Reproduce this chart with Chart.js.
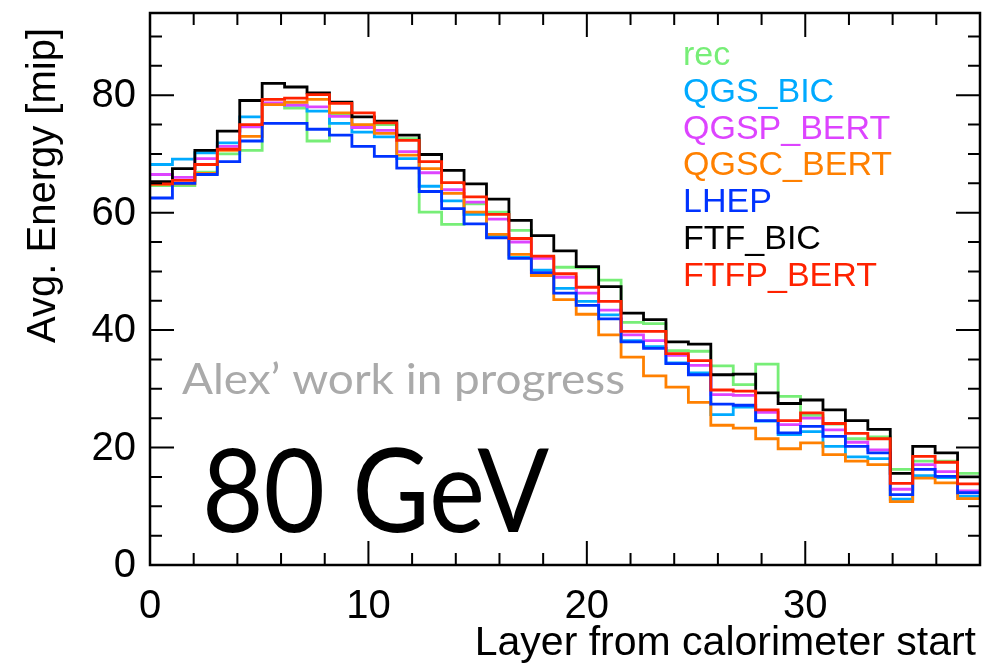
<!DOCTYPE html>
<html lang="en">
<head>
<meta charset="UTF-8">
<title>Avg. Energy per layer - 80 GeV</title>
<script src="https://cdn.jsdelivr.net/npm/chart.js"></script>
<style>
  body { margin: 0; background: #fff; }
  .wrap { width: 998px; height: 663px; }
</style>
</head>
<body>
<div class="wrap"><canvas id="layers"></canvas></div>
<script>
// physics lists, same order as the legend
const models = ['rec', 'QGS_BIC', 'QGSP_BERT', 'QGSC_BERT', 'LHEP', 'FTF_BIC', 'FTFP_BERT'];
const colors = ['#77ee77', '#00aaff', '#dd44ff', '#ff8000', '#0033ff', '#000000', '#ff2200'];

// avg energy per layer [mip], 37 bins
const rec      = [64.6, 64.6, 66.9, 70.0, 70.6, 78.5, 77.8, 72.2, 76.7, 74.9, 75.0, 72.6, 60.1, 58.0, 61.5, 60.1, 57.0, 52.4, 50.7, 50.6, 48.5, 41.3, 41.1, 36.5, 36.4, 33.9, 30.7, 34.2, 28.7, 25.5, 24.0, 21.5, 21.8, 16.3, 17.7, 17.7, 15.6];
const qgsBic   = [68.2, 69.1, 70.2, 71.9, 76.3, 78.5, 78.3, 77.3, 75.2, 73.7, 72.9, 69.2, 64.5, 62.0, 59.7, 56.0, 52.4, 50.2, 47.1, 44.9, 42.6, 38.2, 37.2, 34.4, 32.7, 25.6, 26.9, 24.5, 22.2, 22.7, 20.2, 18.4, 18.1, 11.2, 15.2, 14.9, 11.7];
const qgspBert = [66.5, 66.0, 69.2, 71.3, 74.6, 78.7, 78.3, 78.0, 76.4, 74.5, 74.0, 70.4, 66.8, 63.9, 61.8, 58.9, 55.0, 52.2, 49.0, 46.3, 43.4, 39.2, 38.2, 35.7, 34.0, 29.0, 28.9, 26.0, 23.9, 25.0, 23.0, 20.9, 19.6, 12.9, 17.1, 15.9, 12.6];
const qgscBert = [64.8, 64.9, 66.7, 70.6, 73.0, 78.4, 78.8, 79.3, 77.0, 75.0, 73.5, 69.8, 67.5, 63.3, 60.1, 56.3, 52.9, 49.3, 45.2, 42.7, 39.2, 35.4, 32.2, 30.3, 27.7, 23.8, 23.3, 21.5, 19.8, 20.8, 18.8, 17.7, 17.1, 10.8, 14.8, 14.0, 11.3];
const lhep     = [62.5, 65.0, 66.5, 68.7, 72.2, 75.2, 75.2, 74.2, 73.2, 71.3, 69.6, 67.6, 63.6, 60.7, 58.1, 55.7, 52.2, 49.8, 46.3, 44.2, 41.9, 38.0, 36.9, 34.3, 32.4, 27.4, 27.2, 24.6, 22.5, 23.6, 21.9, 20.2, 19.1, 12.0, 16.3, 15.1, 12.3];
const ftfBic   = [65.3, 67.5, 70.6, 73.9, 79.1, 82.0, 81.4, 80.4, 78.8, 76.3, 75.6, 73.2, 69.9, 67.2, 64.9, 62.3, 58.7, 56.1, 53.5, 50.8, 47.4, 42.9, 41.8, 38.0, 37.6, 32.4, 32.5, 29.3, 27.5, 28.1, 26.4, 24.6, 23.1, 15.6, 20.2, 19.1, 15.0];
const ftfpBert = [64.9, 65.5, 68.2, 70.8, 75.0, 79.3, 79.5, 80.1, 78.6, 77.0, 75.3, 72.3, 68.7, 65.1, 62.7, 59.7, 55.6, 52.6, 49.6, 47.3, 44.9, 39.8, 39.8, 36.0, 34.8, 29.8, 29.6, 26.4, 24.6, 25.9, 24.1, 22.4, 21.5, 13.9, 18.5, 17.5, 13.8];
const series = [rec, qgsBic, qgspBert, qgscBert, lhep, ftfBic, ftfpBert];

const xTicks = [0, 10, 20, 30];
const yTicks = [0, 20, 40, 60, 80];
const xMax = 38;
const yMax = 94;

const labelFont = '40px "Liberation Sans", Arial, sans-serif';

// bins span the whole x range, so each step is xMax / nbins wide
function histPoints(vals) {
    const w = xMax / vals.length;
    const pts = vals.map((v, i) => ({ x: i * w, y: v }));
    pts.push({ x: xMax, y: vals[vals.length - 1] });
    return pts;
}

// draw text squeezed/stretched to a given width
function fitText(ctx, txt, x, y, width) {
    const w = ctx.measureText(txt).width;
    ctx.save();
    ctx.translate(x, y);
    ctx.scale(width / w, 1);
    ctx.fillText(txt, 0, 0);
    ctx.restore();
}

const frame = {
    id: 'frame',
    beforeDraw(chart) {
        const ctx = chart.ctx;
        ctx.save();
        ctx.fillStyle = '#fff';
        ctx.fillRect(0, 0, chart.width, chart.height);
        ctx.restore();
    },
    beforeDatasetsDraw(chart) {
        const ctx = chart.ctx;
        ctx.save();
        ctx.textBaseline = 'alphabetic';
        ctx.fillStyle = '#aaaaaa';
        ctx.font = '42px Lato, "Open Sans", sans-serif';
        fitText(ctx, "Alex\u2019 work in progress", 182, 394, 443);
        ctx.fillStyle = '#000';
        ctx.font = '116px Lato, "Open Sans", sans-serif';
        fitText(ctx, '80 GeV', 202, 532, 347);
        ctx.restore();
    },
    afterDatasetsDraw(chart) {
        const { ctx, chartArea: a, scales: { x, y } } = chart;
        ctx.save();
        ctx.strokeStyle = '#000';
        ctx.lineWidth = 2.5;
        ctx.strokeRect(a.left, a.top, a.right - a.left, a.bottom - a.top);

        ctx.lineWidth = 2;
        ctx.beginPath();
        for (let v = 2; v < xMax; v += 2) {
            const px = x.getPixelForValue(v);
            const len = v % 10 === 0 ? 24 : 12;
            ctx.moveTo(px, a.bottom); ctx.lineTo(px, a.bottom - len);
            ctx.moveTo(px, a.top); ctx.lineTo(px, a.top + len);
        }
        for (let v = 5; v < yMax; v += 5) {
            const py = y.getPixelForValue(v);
            const len = v % 20 === 0 ? 24 : 12;
            ctx.moveTo(a.left, py); ctx.lineTo(a.left + len, py);
            ctx.moveTo(a.right, py); ctx.lineTo(a.right - len, py);
        }
        ctx.stroke();

        // tick labels
        ctx.fillStyle = '#000';
        ctx.font = labelFont;
        ctx.textAlign = 'center';
        ctx.textBaseline = 'top';
        xTicks.forEach(v => ctx.fillText(String(v), x.getPixelForValue(v), a.bottom + 22));
        ctx.textAlign = 'right';
        ctx.textBaseline = 'middle';
        yTicks.forEach(v => ctx.fillText(String(v), a.left - 14, y.getPixelForValue(v) + 1));

        // axis titles
        ctx.font = '41px "Liberation Sans", Arial, sans-serif';
        ctx.textAlign = 'right';
        ctx.textBaseline = 'alphabetic';
        ctx.fillText('Layer from calorimeter start', a.right - 4, 655);
        ctx.save();
        ctx.translate(55, 28);
        ctx.rotate(-Math.PI / 2);
        ctx.font = labelFont;
        ctx.fillText('Avg. Energy [mip]', 0, 0);
        ctx.restore();

        // legend, text only
        ctx.font = '34px "Liberation Sans", Arial, sans-serif';
        ctx.textAlign = 'left';
        models.forEach((m, i) => {
            ctx.fillStyle = colors[i];
            ctx.fillText(m, 683, 65 + i * 36.8);
        });
        ctx.restore();
    }
};

new Chart(document.getElementById('layers'), {
    type: 'line',
    data: {
        datasets: series.map((vals, i) => ({
            label: models[i],
            data: histPoints(vals),
            borderColor: colors[i],
            borderWidth: 2.8,
            stepped: 'before',
            pointRadius: 0,
            fill: false,
            order: series.length - i
        }))
    },
    options: {
        responsive: true,
        maintainAspectRatio: false,
        animation: false,
        layout: { padding: { left: 150, right: 18, top: 13, bottom: 98 } },
        plugins: { legend: { display: false }, tooltip: { enabled: false } },
        scales: {
            x: { type: 'linear', min: 0, max: xMax, display: false },
            y: { min: 0, max: yMax, display: false }
        }
    },
    plugins: [frame]
});
</script>
</body>
</html>
